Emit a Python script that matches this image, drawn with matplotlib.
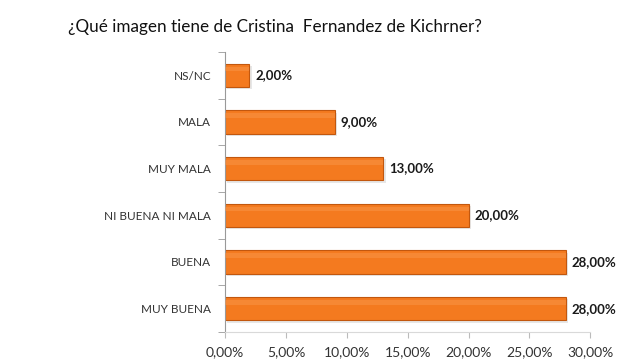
import matplotlib
matplotlib.use("Agg")
import matplotlib.pyplot as plt
from matplotlib.ticker import FuncFormatter, MultipleLocator
import numpy as np

categories = ["MUY BUENA", "BUENA", "NI BUENA NI MALA", "MUY MALA", "MALA", "NS/NC"]
values = [28.0, 28.0, 20.0, 13.0, 9.0, 2.0]
title = "¿Qué imagen tiene de Cristina  Fernandez de Kichrner?"

plt.rcParams['font.family'] = ['Lato', 'DejaVu Sans']

fig = plt.figure(figsize=(6.2, 3.6), dpi=100)
ax = fig.add_axes([0.363, 0.078, 0.589, 0.778])

y = np.arange(len(categories))
# shadow
ax.barh(y - 0.05, values, height=0.5, left=0.2, color="#d0d0d0", alpha=0.5, zorder=1)
bars = ax.barh(y, values, height=0.5, color="#F47A1F", edgecolor="#C2570E", linewidth=0.8, zorder=2)
# subtle highlight
ax.barh(y + 0.13, values, height=0.1, color="#F8964A", alpha=0.5, linewidth=0, zorder=3)

for yi, v in zip(y, values):
    ax.text(v + 0.5, yi, f"{v:.2f}%".replace(".", ","), va="center", ha="left",
            fontsize=9.5, fontweight="bold", color="#1a1a1a", zorder=4)

ax.set_yticks(y)
ax.set_yticklabels(categories, fontsize=8.5, color="#333333")
ax.set_ylim(-0.5, len(categories) - 0.5)
ax.set_xlim(0, 30)
ax.xaxis.set_major_locator(MultipleLocator(5))
ax.xaxis.set_major_formatter(FuncFormatter(lambda v, p: f"{v:.2f}%".replace(".", ",")))
ax.tick_params(axis="x", labelsize=10, colors="#333333", length=4, color="#bbbbbb", pad=6)
ax.tick_params(axis="y", length=0, pad=10)
ax.set_yticks(np.arange(-0.5, len(categories), 1), minor=True)
ax.tick_params(axis="y", which="minor", length=5, color="#999999")

for s in ["top", "right"]:
    ax.spines[s].set_visible(False)
ax.spines["left"].set_color("#999999")
ax.spines["bottom"].set_color("#d9d9d9")

fig.text(0.11, 0.925, title, fontsize=12.3, color="#111111", ha="left", va="center")

fig.savefig("out.png", dpi=100)
